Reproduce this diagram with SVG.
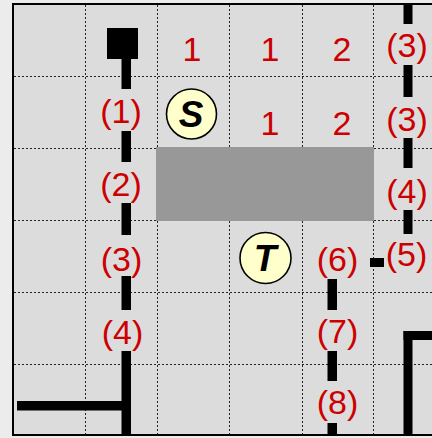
<svg xmlns="http://www.w3.org/2000/svg" width="432" height="438" viewBox="0 0 432 438">
<style>
.grid{stroke:#222;stroke-width:1;stroke-dasharray:2 2;fill:none}
.lbl{font-family:"Liberation Sans",Arial,sans-serif;font-size:34px;fill:#cc0000;text-anchor:middle}
.node{fill:#ffffcc;stroke:#000;stroke-width:1.6}
.ntxt{font-family:"Liberation Sans",Arial,sans-serif;font-size:37px;font-weight:bold;font-style:italic;fill:#000;text-anchor:middle}
.seg{fill:#000}
</style>
<rect x="0" y="0" width="432" height="438" fill="#ececec"/>
<rect x="13" y="4" width="440" height="431" fill="#dcdcdc" stroke="#000" stroke-width="2"/>
<g id="grid">
<path class="grid" d="M85.5 5V434M157.5 5V434M229.5 5V434M302.5 5V434M373.5 5V434"/>
<path class="grid" d="M14 76.5H432M14 148.5H432M14 220.5H432M14 292.5H432M14 364.5H432"/>
</g>
<g id="obstacle"><rect x="156" y="147" width="218" height="74" fill="#989898"/></g>
<g id="connectors">
<rect class="seg" x="107" y="28" width="31" height="31"/>
<rect class="seg" x="121.5" y="59" width="9.5" height="30"/>
<rect class="seg" x="121.5" y="131" width="9.5" height="31"/>
<rect class="seg" x="121.5" y="203" width="9.5" height="32"/>
<rect class="seg" x="121.5" y="276" width="9.5" height="34"/>
<rect class="seg" x="121.5" y="351" width="9.5" height="84"/>
<rect class="seg" x="17" y="401" width="114" height="9.5"/>
<rect class="seg" x="403.5" y="4" width="9" height="20"/>
<rect class="seg" x="403.5" y="65" width="9" height="32"/>
<rect class="seg" x="403.5" y="138" width="9" height="30"/>
<rect class="seg" x="403.5" y="210" width="9" height="24"/>
<rect class="seg" x="370" y="258" width="14" height="9"/>
<rect class="seg" x="327.5" y="279" width="9.5" height="31"/>
<rect class="seg" x="327.5" y="351" width="9.5" height="30"/>
<rect class="seg" x="327.5" y="423" width="9.5" height="12"/>
<rect class="seg" x="403.5" y="331" width="9" height="104"/>
<rect class="seg" x="403.5" y="331" width="29" height="9"/>
</g>
<g id="labels">
<text class="lbl" x="192" y="61">1</text>
<text class="lbl" x="270" y="61">1</text>
<text class="lbl" x="342" y="61">2</text>
<text class="lbl" x="407" y="57">(3)</text>
<text class="lbl" x="270" y="135">1</text>
<text class="lbl" x="342" y="135">2</text>
<text class="lbl" x="407" y="131">(3)</text>
<text class="lbl" x="121" y="123">(1)</text>
<text class="lbl" x="121" y="196">(2)</text>
<text class="lbl" x="407" y="203">(4)</text>
<text class="lbl" x="121.5" y="271">(3)</text>
<text class="lbl" x="122.5" y="344">(4)</text>
<text class="lbl" x="337.5" y="271">(6)</text>
<text class="lbl" x="406.5" y="266">(5)</text>
<text class="lbl" x="337.5" y="343">(7)</text>
<text class="lbl" x="337.5" y="414">(8)</text>
</g>
<g id="node-S">
<circle class="node" cx="191.5" cy="114" r="25"/>
<text class="ntxt" x="191" y="127">S</text>
</g>
<g id="node-T">
<circle class="node" cx="265.5" cy="258" r="25.5"/>
<text class="ntxt" x="265" y="271">T</text>
</g>
</svg>
